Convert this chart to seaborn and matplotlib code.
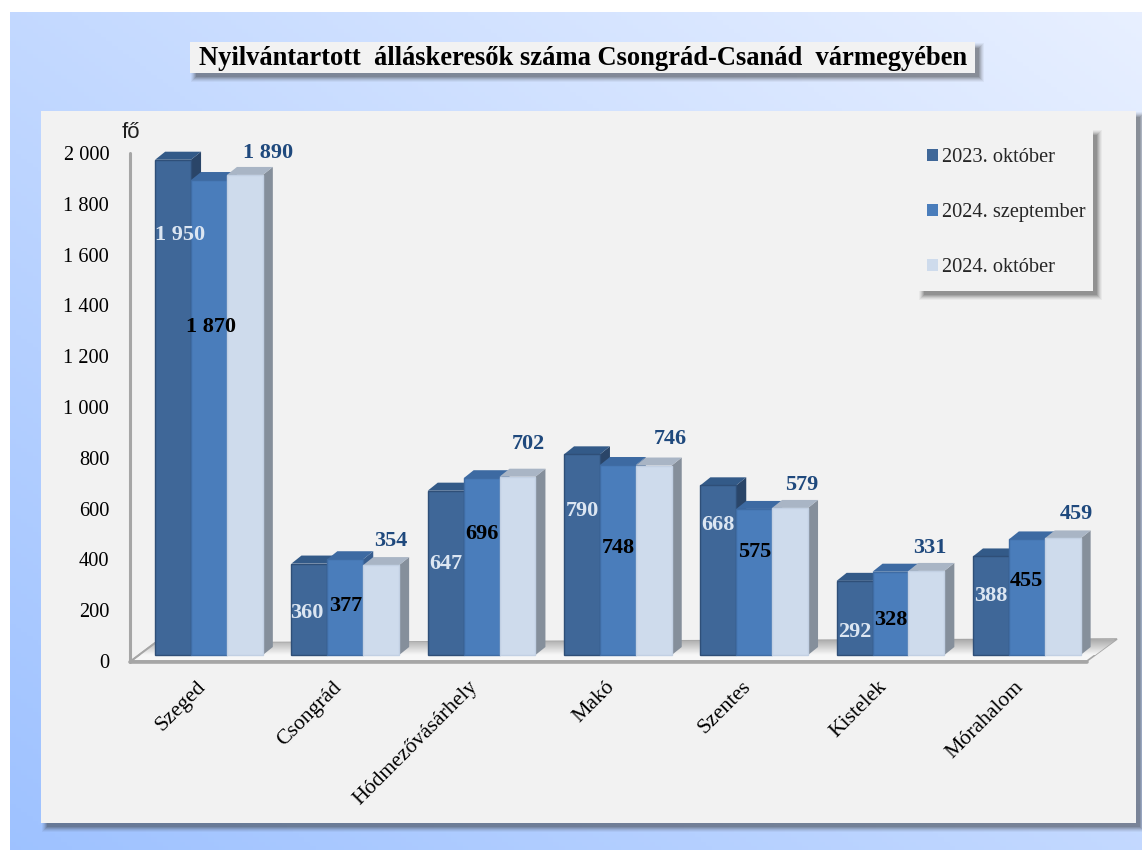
import numpy as np
import pandas as pd
import matplotlib
matplotlib.use('Agg')
import matplotlib.pyplot as plt
from matplotlib.patches import Polygon, Rectangle
from matplotlib.transforms import ScaledTranslation
import seaborn as sns

telepulesek = ['Szeged', 'Csongrád', 'Hódmezővásárhely', 'Makó', 'Szentes', 'Kistelek', 'Mórahalom']
idoszakok = ['2023. október', '2024. szeptember', '2024. október']
okt_2023 = [1950, 360, 647, 790, 668, 292, 388]
szept_2024 = [1870, 377, 696, 748, 575, 328, 455]
okt_2024 = [1890, 354, 702, 746, 579, 331, 459]
y_ticks = [0, 200, 400, 600, 800, 1000, 1200, 1400, 1600, 1800, 2000]
cim = 'Nyilvántartott  álláskeresők száma Csongrád-Csanád  vármegyében'

# label placement, px relative to the top of the bar (hand placed in the original)
label_drop = [[75, 49, 73, 57, 40, 51, 40],
              [147, 47, 56, 83, 43, 48, 42],
              [-22, -24, -33, -27, -23, -23, -24]]
label_shift = [[7, -3, 0, 0, 0, 0, 0],
               [2, 0, 0, 0, 0, 0, 0],
               [23, 10, 11, 17, 12, 3, 14]]

front_cols = ['#3F6798', '#4A7DBB', '#CEDBEC']
edge_cols = ['#2F4F78', '#3F6CA4', '#C2D0E3']
side_cols = ['#2A4568', '#375D8E', '#858F9B']
top_cols = ['#335A88', '#3D6AA2', '#A9B5C5']
label_cols = ['#DCE6F2', '#000000', '#1F497D']

sns.set_theme(style='white')
plt.rcParams['font.family'] = ['Liberation Serif', 'DejaVu Serif']

W, H = 1142, 850
PX_Y = 0.254    # px per person
PX_GROUP = 136.3
fig = plt.figure(figsize=(W / 100, H / 100), dpi=100, facecolor='white')

# background layer in pixel coordinates
bg = fig.add_axes([0, 0, 1, 1])
bg.set_xlim(0, W)
bg.set_ylim(H, 0)
bg.axis('off')


def box(x0, y0, x1, y1, z, col='#F2F2F2', dx=5, dy=5):
    for grow, a in zip([4, 3, 2, 1, 0, -1], [0.05, 0.07, 0.09, 0.12, 0.14, 0.16]):
        bg.add_patch(Rectangle((x0 + dx - grow, y0 + dy - grow), x1 - x0 + 2 * grow, y1 - y0 + 2 * grow,
                               fc='#303030', ec='none', alpha=a, zorder=z))
    bg.add_patch(Rectangle((x0, y0), x1 - x0, y1 - y0, fc=col, ec='none', zorder=z + 0.5))


# page gradient
u, v = np.meshgrid(np.linspace(0, 1, 200), np.linspace(0, 1, 200))
t = (u + (1 - v)) / 2
c0 = np.array([0.62, 0.76, 1.0])
c1 = np.array([0.91, 0.94, 1.0])
grad = c0 + (c1 - c0) * t[..., None]
bg.imshow(grad, extent=(10, W, H, 12), aspect='auto', zorder=1)
bg.set_xlim(0, W)
bg.set_ylim(H, 0)

box(41, 111, 1136, 823, 2)
box(190, 42, 975, 73, 3)
box(918, 129, 1093, 291, 3)

# floor and axis lines
floor = Polygon([(131, 661), (1087, 661), (1117, 639), (155, 643)], closed=True,
                fc='#F7F7F7', ec='#A6A6A6', lw=1.2, zorder=5)
bg.add_patch(floor)
band = np.linspace(0.68, 0.97, 50)[:, None]
im = bg.imshow(band, extent=(131, 1117, 655, 640), aspect='auto', cmap='gray', vmin=0, vmax=1, zorder=5.5)
im.set_clip_path(floor)
bg.set_xlim(0, W)
bg.set_ylim(H, 0)
bg.plot([130, 130], [153, 662], color='#A6A6A6', lw=2.2, zorder=6)
bg.plot([130, 1087], [662, 662], color='#A6A6A6', lw=2.6, zorder=6)
bg.plot([131, 155], [661, 643], color='#A6A6A6', lw=1.4, zorder=6)

bg.text(583, 58, cim, ha='center', va='center', fontsize=19.1, fontweight='bold', color='black', zorder=7)
bg.text(131, 132, 'fő', ha='center', va='center', fontsize=16, family='Liberation Sans', color='#202020', zorder=7)

# chart
df = pd.DataFrame({
    'telepules': telepulesek * 3,
    'idoszak': np.repeat(idoszakok, len(telepulesek)),
    'fo': okt_2023 + szept_2024 + okt_2024,
})

top_px, bottom_px = 140, 661
ax = fig.add_axes([131 / W, (H - bottom_px) / H, 956 / W, (bottom_px - top_px) / H])
ax.patch.set_alpha(0)
sns.barplot(data=df, x='telepules', y='fo', hue='idoszak', hue_order=idoszakok, order=telepulesek,
            palette=front_cols, saturation=1, width=0.79, ax=ax)
ax.set_xlim(-78 / PX_GROUP, (1087 - 209) / PX_GROUP)
ax.set_ylim(-6 / PX_Y, (655 - top_px) / PX_Y)
sns.despine(ax=ax, left=True, bottom=True)
ax.set_xlabel('')
ax.set_ylabel('')

# fake 3D depth on every bar
dx = 10 / PX_GROUP
dy = 8 / PX_Y
for i, cont in enumerate(ax.containers):
    for j, bar in enumerate(cont):
        x0, x1, h = bar.get_x(), bar.get_x() + bar.get_width(), bar.get_height()
        z = 3 + 2 * i
        bar.set_zorder(z)
        bar.set_edgecolor(edge_cols[i])
        bar.set_linewidth(1.0)
        ax.add_patch(Polygon([(x1, 0), (x1 + dx, dy), (x1 + dx, h + dy), (x1, h)], closed=True,
                             fc=side_cols[i], ec='none', zorder=z - 1, clip_on=False))
        ax.add_patch(Polygon([(x0, h), (x0 + dx, h + dy), (x1 + dx, h + dy), (x1, h)], closed=True,
                             fc=top_cols[i], ec='none', zorder=z - 1, clip_on=False))
        ax.text((x0 + x1) / 2 + label_shift[i][j] / PX_GROUP, h - label_drop[i][j] / PX_Y,
                f'{int(h):,}'.replace(',', ' '), ha='center', va='center', fontsize=16,
                fontweight='bold', color=label_cols[i], zorder=20, clip_on=False)

ax.set_yticks(y_ticks)
ax.set_yticklabels([f'{v:,}'.replace(',', ' ') for v in y_ticks], fontsize=14.7, color='black')
ax.tick_params(axis='y', length=0, pad=20)
# value labels sit on the front plane, a bit below the bar base
shift = ScaledTranslation(6 / 100, -6 / 100, fig.dpi_scale_trans)
for lab in ax.get_yticklabels():
    lab.set_transform(lab.get_transform() + shift)

ax.tick_params(axis='x', length=0, pad=12)
ax.set_xticks(range(len(telepulesek)))
ax.set_xticklabels(telepulesek, rotation=45, ha='right', rotation_mode='anchor', fontsize=15.6, color='black')
shift_x = ScaledTranslation(-13 / 100, 0, fig.dpi_scale_trans)
for lab in ax.get_xticklabels():
    lab.set_transform(lab.get_transform() + shift_x)

sns.move_legend(ax, 'upper left', bbox_to_anchor=(918 / W, 1 - 139 / H), bbox_transform=fig.transFigure,
                title=None, frameon=False, fontsize=14.7, labelspacing=1.76, handlelength=0.54,
                handleheight=0.54, handletextpad=0.2, borderpad=0.44, borderaxespad=0)
for handle in ax.get_legend().legend_handles:
    handle.set_edgecolor('none')

fig.savefig('out.png', dpi=100)
plt.close(fig)
